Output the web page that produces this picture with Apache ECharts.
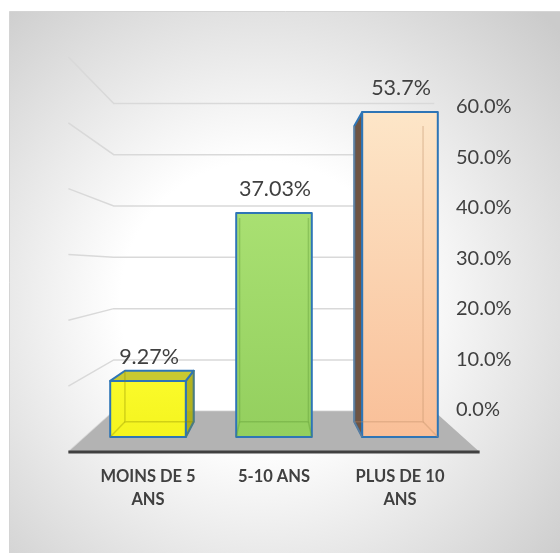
<!DOCTYPE html>
<html><head><meta charset="utf-8">
<script src="https://cdn.jsdelivr.net/npm/echarts@6/dist/echarts.min.js"></script>
<style>html,body{margin:0;padding:0;background:#fff}#c{width:560px;height:553px}</style>
</head><body><div id="c"></div>
<script>
// ---- data ----
const categories = ['MOINS DE 5\nANS', '5-10 ANS', 'PLUS DE 10\nANS'];
const values = [0.0927, 0.3703, 0.537];
const valueLabels = ['9.27%', '37.03%', '53.7%'];
const yTicks = [0, 0.1, 0.2, 0.3, 0.4, 0.5, 0.6];

// ---- styles ----
const palette = [
  {front: ['#fafa2a', '#f4f41e'], top: 'rgba(195,195,25,0.9)', side: 'rgba(172,172,12,0.92)', inner: 'rgba(140,140,0,0.35)'},
  {front: ['#a9e072', '#93cf5e'], top: '#7fb84a', side: '#6f9e40', inner: 'rgba(90,150,50,0.35)'},
  {front: ['#fde6c8', '#f9bf98'], top: '#c8a080', side: '#6e5443', inner: 'rgba(190,140,100,0.35)'}
];
const EDGE = '#2e75b6';
const TEXT = '#404040';
const FONT = 'Lato, "Open Sans", sans-serif';
const EYE = 0.28;          // camera height (value units)
const BAR_DEPTH = 0.91;    // back face scale of bars
const WALL_DEPTH = 0.848;  // back wall scale
const FLOOR_FRONT = 1.088; // front edge of floor
const BAR_FRAC = 0.6;

function vanish(api) {
  return [api.coord([1, 0])[0], api.coord([1, EYE])[1]];
}
function P(p, s, V) { return [V[0] + (p[0] - V[0]) * s, V[1] + (p[1] - V[1]) * s]; }

function sceneRender(params, api) {
  const V = vanish(api);
  const band = api.size([1, 0])[0];
  const L = api.coord([0, 0])[0] - band / 2;
  const R = api.coord([categories.length - 1, 0])[0] + band / 2;
  const y0 = api.coord([0, 0])[1];
  const ch = [];
  yTicks.forEach(function (t) {
    const yt = api.coord([0, t])[1];
    const bl = P([L, yt], WALL_DEPTH, V), br = P([R, yt], WALL_DEPTH, V), fl = P([L, yt], FLOOR_FRONT, V);
    ch.push({type: 'polyline', shape: {points: [fl, bl, br]}, style: {stroke: '#d9d9d9', lineWidth: 1.5, fill: null}});
  });
  const fbl = P([L, y0], WALL_DEPTH, V), fbr = P([R, y0], WALL_DEPTH, V);
  const ffl = P([L, y0], FLOOR_FRONT, V), ffr = P([R, y0], FLOOR_FRONT, V);
  ch.push({type: 'polygon', shape: {points: [fbl, fbr, ffr, ffl]}, style: {fill: '#b3b3b3'}});
  ch.push({type: 'line', shape: {x1: ffl[0], y1: ffl[1], x2: ffr[0], y2: ffr[1]}, style: {stroke: '#404040', lineWidth: 3}});
  return {type: 'group', children: ch};
}

function barRender(params, api) {
  const i = api.value(0), v = api.value(1);
  const c = api.coord([i, v]), c0 = api.coord([i, 0]);
  const bw = api.size([1, 0])[0] * BAR_FRAC;
  const x0 = c[0] - bw / 2, x1 = c[0] + bw / 2, yT = c[1], yB = c0[1];
  const V = vanish(api);
  const pal = palette[i];
  const ftl = [x0, yT], ftr = [x1, yT], fbl = [x0, yB], fbr = [x1, yB];
  const btl = P(ftl, BAR_DEPTH, V), btr = P(ftr, BAR_DEPTH, V), bbl = P(fbl, BAR_DEPTH, V), bbr = P(fbr, BAR_DEPTH, V);
  const ch = [];
  const edge = {stroke: EDGE, lineWidth: 2, lineJoin: 'round'};
  if (x1 < V[0]) ch.push({type: 'polygon', shape: {points: [ftr, btr, bbr, fbr]}, style: Object.assign({fill: pal.side}, edge)});
  if (x0 > V[0]) ch.push({type: 'polygon', shape: {points: [ftl, btl, bbl, fbl]}, style: Object.assign({fill: pal.side}, edge)});
  if (yT > V[1]) ch.push({type: 'polygon', shape: {points: [ftl, ftr, btr, btl]}, style: Object.assign({fill: pal.top}, edge)});
  ch.push({type: 'rect', shape: {x: x0, y: yT, width: bw, height: yB - yT},
    style: Object.assign({fill: new echarts.graphic.LinearGradient(0, 0, 0, 1, [{offset: 0, color: pal.front[0]}, {offset: 1, color: pal.front[1]}])}, edge)});
  // faint inner (back) edges seen through the translucent box
  const inner = {stroke: pal.inner, lineWidth: 1.5, fill: null};
  ch.push({type: 'polyline', shape: {points: [btl, bbl, bbr, btr]}, style: inner});
  ch.push({type: 'polyline', shape: {points: [fbl, bbl]}, style: inner});
  ch.push({type: 'polyline', shape: {points: [fbr, bbr]}, style: inner});
  ch.push({type: 'text', style: {text: valueLabels[i], x: c[0] + 1, y: yT - 24, fill: TEXT, font: '21.5px ' + FONT, align: 'center', verticalAlign: 'middle'}});
  return {type: 'group', children: ch};
}

const chart = echarts.init(document.getElementById('c'));
chart.setOption({
  animation: false,
  graphic: [{
    type: 'rect', z: -10, silent: true,
    shape: {x: 9.5, y: 11.5, width: 560, height: 560},
    style: {
      fill: new echarts.graphic.RadialGradient(0.45, 0.52, 0.72, [
        {offset: 0, color: '#ffffff'}, {offset: 0.35, color: '#ffffff'}, {offset: 1, color: '#cbcbcb'}]),
      stroke: '#d4d4d4', lineWidth: 1
    }
  }],
  grid: [
    {left: 85, right: 97, top: 74, bottom: 116, outerBoundsMode: 'none', containLabel: false},
    {left: 114, right: 126, top: 107, bottom: 143, outerBoundsMode: 'none', containLabel: false}
  ],
  xAxis: [
    {type: 'category', gridIndex: 0, data: categories,
      axisLine: {show: false}, axisTick: {show: false}, splitLine: {show: false},
      axisLabel: {interval: 0, margin: 28, color: TEXT, fontFamily: FONT, fontWeight: 'bold', fontSize: 16.5, lineHeight: 23}},
    {type: 'value', gridIndex: 1, show: false}
  ],
  yAxis: [
    {type: 'value', gridIndex: 0, min: 0, max: 0.6, interval: 0.1, show: false},
    {type: 'value', gridIndex: 1, min: 0, max: 0.6, interval: 0.1, position: 'right',
      axisLine: {show: false}, axisTick: {show: false}, splitLine: {show: false},
      axisLabel: {margin: 22, color: TEXT, fontFamily: FONT, fontSize: 20,
        formatter: function (v) { return (v * 100).toFixed(1) + '%'; }}}
  ],
  series: [
    {type: 'custom', xAxisIndex: 0, yAxisIndex: 0, z: 1, silent: true, renderItem: sceneRender, data: [[0, 0]]},
    {type: 'custom', xAxisIndex: 0, yAxisIndex: 0, z: 3, silent: true, renderItem: barRender,
      data: values.map(function (v, i) { return [i, v]; })}
  ]
});
</script>
</body></html>
